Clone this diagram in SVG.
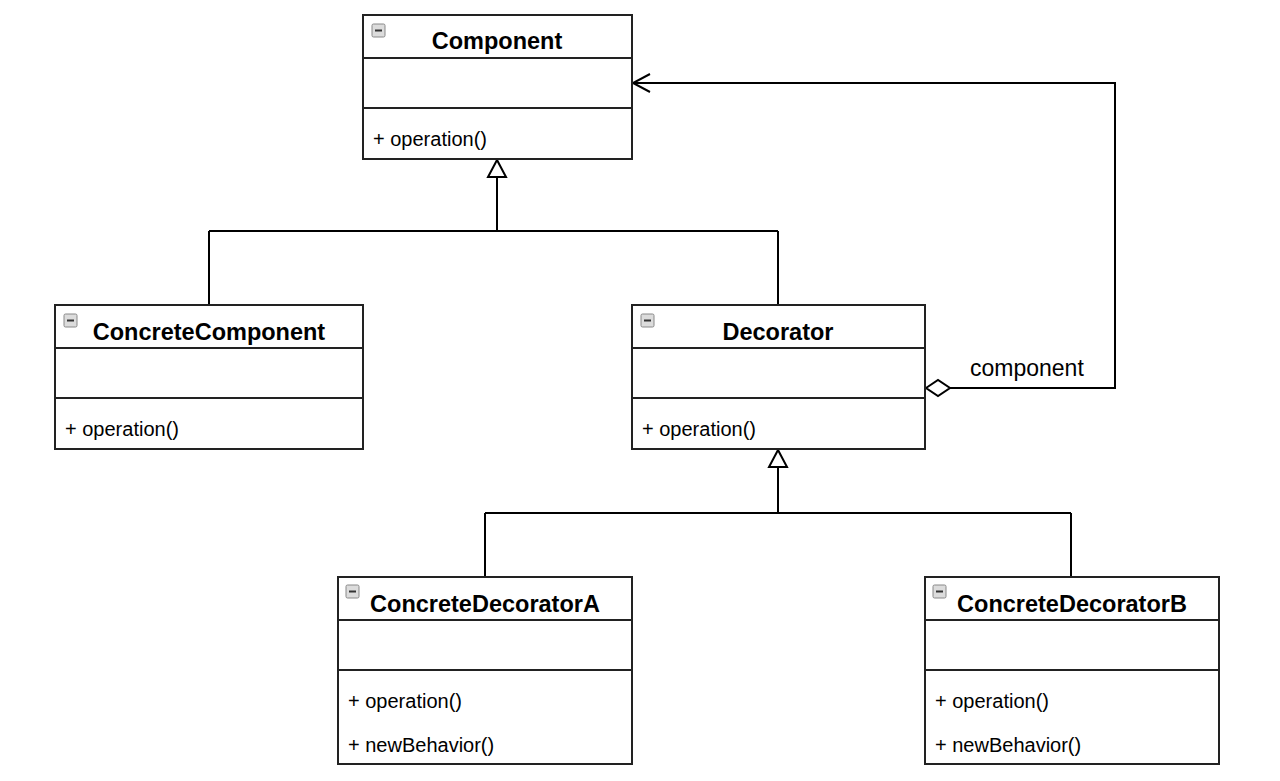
<svg xmlns="http://www.w3.org/2000/svg" width="1280" height="781" viewBox="0 0 1280 781">
<style>
.box{fill:#fff;stroke:#222;stroke-width:2}
.div{stroke:#222;stroke-width:2}
.t{font-family:"Liberation Sans",Arial,sans-serif;font-size:23.5px;font-weight:bold;text-anchor:middle;fill:#000}
.m{font-family:"Liberation Sans",Arial,sans-serif;font-size:20px;fill:#000}
.lbl{font-family:"Liberation Sans",Arial,sans-serif;font-size:23px;fill:#000}
.ln{fill:none;stroke:#000;stroke-width:2}
.ic{fill:#dcdcdc;stroke:#888;stroke-width:1}
</style>
<defs>
<g id="icon"><rect class="ic" x="0" y="0" width="13" height="13" rx="1.5"/><line x1="3" y1="6.5" x2="10" y2="6.5" stroke="#333" stroke-width="2"/></g>
</defs>
<rect width="1280" height="781" fill="#fff"/>
<g id="connectors">
<path class="ln" d="M497,177 V231 M209,231 H778 M209,231 V305 M778,231 V305"/>
<polygon points="497,160 488,177 506,177" fill="#fff" stroke="#000" stroke-width="2"/>
<path class="ln" d="M778,467 V513 M485,513 H1071 M485,513 V577 M1071,513 V577"/>
<polygon points="778,450 769,467 787,467" fill="#fff" stroke="#000" stroke-width="2"/>
<path class="ln" d="M950,388 H1115 V83 H633"/>
<polygon points="926,388 938,380 950,388 938,396" fill="#fff" stroke="#000" stroke-width="2"/>
<path class="ln" d="M650,74 L633,83 L650,92"/>
<text class="lbl" x="970" y="376">component</text>
</g>
<g id="Component">
<rect class="box" x="363" y="15" width="269" height="144"/>
<line class="div" x1="363" y1="58" x2="632" y2="58"/>
<line class="div" x1="363" y1="108" x2="632" y2="108"/>
<use href="#icon" x="372" y="24"/>
<text class="t" x="497" y="49">Component</text>
<text class="m" x="373" y="146">+ operation()</text>
</g>
<g id="ConcreteComponent">
<rect class="box" x="55" y="305" width="308" height="144"/>
<line class="div" x1="55" y1="348" x2="363" y2="348"/>
<line class="div" x1="55" y1="398" x2="363" y2="398"/>
<use href="#icon" x="64" y="314"/>
<text class="t" x="209" y="340">ConcreteComponent</text>
<text class="m" x="65" y="436">+ operation()</text>
</g>
<g id="Decorator">
<rect class="box" x="632" y="305" width="293" height="144"/>
<line class="div" x1="632" y1="348" x2="925" y2="348"/>
<line class="div" x1="632" y1="398" x2="925" y2="398"/>
<use href="#icon" x="641" y="314"/>
<text class="t" x="778" y="340">Decorator</text>
<text class="m" x="642" y="436">+ operation()</text>
</g>
<g id="ConcreteDecoratorA">
<rect class="box" x="338" y="577" width="294" height="187"/>
<line class="div" x1="338" y1="620" x2="632" y2="620"/>
<line class="div" x1="338" y1="670" x2="632" y2="670"/>
<use href="#icon" x="346" y="585"/>
<text class="t" x="485" y="612">ConcreteDecoratorA</text>
<text class="m" x="348" y="708">+ operation()</text>
<text class="m" x="348" y="752">+ newBehavior()</text>
</g>
<g id="ConcreteDecoratorB">
<rect class="box" x="925" y="577" width="294" height="187"/>
<line class="div" x1="925" y1="620" x2="1219" y2="620"/>
<line class="div" x1="925" y1="670" x2="1219" y2="670"/>
<use href="#icon" x="933" y="585"/>
<text class="t" x="1072" y="612">ConcreteDecoratorB</text>
<text class="m" x="935" y="708">+ operation()</text>
<text class="m" x="935" y="752">+ newBehavior()</text>
</g>
</svg>
